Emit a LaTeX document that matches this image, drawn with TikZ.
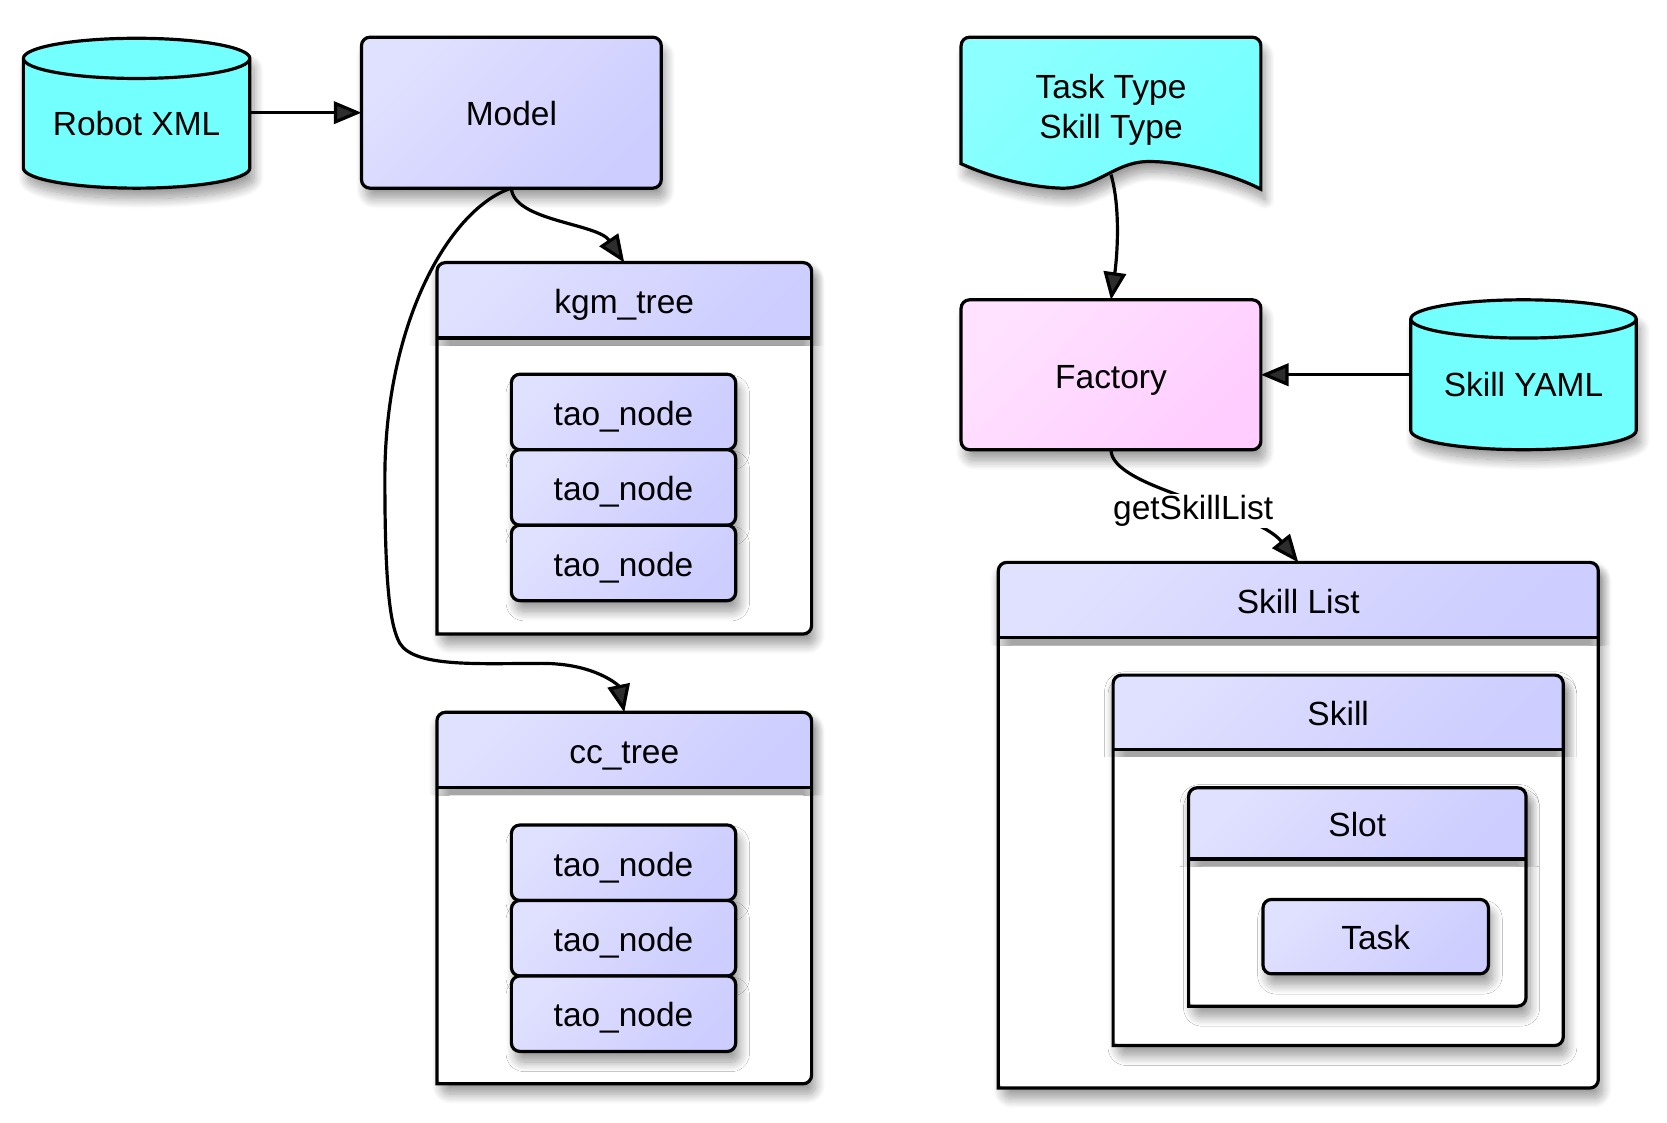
\documentclass[tikz,border=0pt]{standalone}
\usepackage{fontspec}
\setmainfont{Liberation Sans}
\usetikzlibrary{arrows.meta,positioning,shapes.geometric,shadows.blur}

\definecolor{lavlight}{HTML}{E0E0FF}
\definecolor{lavdark}{HTML}{CDCDFF}
\definecolor{aqualight}{HTML}{8CFFFF}
\definecolor{aqua}{HTML}{74FFFF}
\definecolor{pinklight}{HTML}{FFE2FF}
\definecolor{pinkdark}{HTML}{FFCDFF}

\tikzset{
  softshadow/.style={blur shadow={shadow xshift=4pt, shadow yshift=-10pt, shadow blur radius=9pt,
    shadow blur steps=16, shadow opacity=40}},
  headshadow/.style={blur shadow={shadow xshift=2pt, shadow yshift=-7pt, shadow blur radius=10pt,
    shadow blur steps=16, shadow opacity=35}},
  lav/.style={top color=lavlight, bottom color=lavdark, shading angle=45},
  txt/.style={text height=25pt, text depth=0pt},
  box/.style={draw, line width=3pt, rounded corners=8pt, lav, softshadow, inner sep=0pt, outer sep=0pt, txt},
  factorybox/.style={box, top color=pinklight, bottom color=pinkdark, shading angle=45},
  store/.style={cylinder, shape border rotate=90, aspect=0.24, draw, line width=3pt, fill=aqua, softshadow,
    inner sep=0pt, minimum width=213pt, minimum height=141pt, anchor=shape center, text height=22pt, text depth=0pt},
  docshape/.style={draw, line width=3pt, rounded corners=8pt, top color=aqualight, bottom color=aqua, shading angle=45, softshadow},
  lane/.style={anchor=north west, fill=white, rounded corners=8pt, softshadow, inner sep=0pt},
  lanehead/.style={lav, rounded corners=8pt, headshadow},
  laneline/.style={line width=3pt, rounded corners=8pt, line cap=rect},
  link/.style={line width=3pt, -{Triangle[length=26pt, width=21pt]}},
}

\begin{document}
\begin{tikzpicture}[x=1pt, y=-1pt, font=\fontsize{31.5}{38}\selectfont]
\useasboundingbox (0,0) rectangle (1568,1056);

% inputs on the left
\node[store] (robotxml) at (128.5,106.5) {Robot XML};
\node[box, minimum width=282pt, minimum height=142pt] (model) at (481,106) {Model};

% kgm_tree
\node[lane, minimum width=352pt, minimum height=349pt] (kgm) at (411,247) {};
\fill[lanehead] ([yshift=-71pt]kgm.north west) -- (kgm.north west) -- (kgm.north east) -- ([yshift=-71pt]kgm.north east);
\draw[line width=3pt] ([yshift=-71pt]kgm.north west) -- ([yshift=-71pt]kgm.north east);
\draw[laneline] (kgm.south west) -- (kgm.north west) -- (kgm.north east) -- (kgm.south east) -- (kgm.south west);
\node[anchor=north, minimum height=71pt, txt] (kgmtitle) at (kgm.north) {kgm\_tree};
\node[box, minimum width=211pt, minimum height=71pt] (kgmtao1) at (586.5,387.5) {tao\_node};
\node[box, minimum width=211pt, minimum height=71pt, below=0pt of kgmtao1] (kgmtao2) {tao\_node};
\node[box, minimum width=211pt, minimum height=71pt, below=0pt of kgmtao2] (kgmtao3) {tao\_node};

% cc_tree
\node[lane, minimum width=352pt, minimum height=349pt] (cc) at (411,670) {};
\fill[lanehead] ([yshift=-71pt]cc.north west) -- (cc.north west) -- (cc.north east) -- ([yshift=-71pt]cc.north east);
\draw[line width=3pt] ([yshift=-71pt]cc.north west) -- ([yshift=-71pt]cc.north east);
\draw[laneline] (cc.south west) -- (cc.north west) -- (cc.north east) -- (cc.south east) -- (cc.south west);
\node[anchor=north, minimum height=71pt, txt] (cctitle) at (cc.north) {cc\_tree};
\node[box, minimum width=211pt, minimum height=71pt] (cctao1) at (586.5,811.5) {tao\_node};
\node[box, minimum width=211pt, minimum height=71pt, below=0pt of cctao1] (cctao2) {tao\_node};
\node[box, minimum width=211pt, minimum height=71pt, below=0pt of cctao2] (cctao3) {tao\_node};

% inputs on the right
\draw[docshape] (1045,35) -- (1186,35) -- (1186,100) [sharp corners] -- (1186,178)
  .. controls (1160,164) and (1110,151) .. (1078,152)
  .. controls (1048,153) and (1030,178) .. (998,177)
  .. controls (970,176) and (935,168) .. (904,154) -- (904,100) [rounded corners=8pt] -- (904,35) -- (1045,35);
\node[minimum width=282pt, minimum height=121pt, align=center] (tasktype) at (1045,103.5) {Task Type\\Skill Type};
\node[factorybox, minimum width=282pt, minimum height=141pt] (factory) at (1045,352.5) {Factory};
\node[store, minimum width=212pt] (skillyaml) at (1433,352.5) {Skill YAML};

% Skill List
\node[lane, minimum width=564pt, minimum height=494pt] (skilllist) at (939,529) {};
\fill[lanehead] ([yshift=-71pt]skilllist.north west) -- (skilllist.north west) -- (skilllist.north east) -- ([yshift=-71pt]skilllist.north east);
\draw[line width=3pt] ([yshift=-71pt]skilllist.north west) -- ([yshift=-71pt]skilllist.north east);
\draw[laneline] (skilllist.south west) -- (skilllist.north west) -- (skilllist.north east) -- (skilllist.south east) -- (skilllist.south west);
\node[anchor=north, minimum height=71pt, txt] (skilllisttitle) at (skilllist.north) {Skill List};

% Skill
\node[lane, minimum width=423pt, minimum height=348pt] (skill) at (1047,635) {};
\fill[lanehead] ([yshift=-70pt]skill.north west) -- (skill.north west) -- (skill.north east) -- ([yshift=-70pt]skill.north east);
\draw[line width=3pt] ([yshift=-70pt]skill.north west) -- ([yshift=-70pt]skill.north east);
\draw[laneline] (skill.south west) -- (skill.north west) -- (skill.north east) -- (skill.south east) -- (skill.south west);
\node[anchor=north, minimum height=70pt, txt] (skilltitle) at (skill.north) {Skill};

% Slot
\node[lane, minimum width=317pt, minimum height=205pt] (slot) at (1118,741) {};
\fill[lanehead] ([yshift=-67pt]slot.north west) -- (slot.north west) -- (slot.north east) -- ([yshift=-67pt]slot.north east);
\draw[line width=3pt] ([yshift=-67pt]slot.north west) -- ([yshift=-67pt]slot.north east);
\draw[laneline] (slot.south west) -- (slot.north west) -- (slot.north east) -- (slot.south east) -- (slot.south west);
\node[anchor=north, minimum height=67pt, txt] (slottitle) at (slot.north) {Slot};
\node[box, minimum width=212pt, minimum height=70pt] (task) at (1294,881) {Task};

% connectors
\draw[link] (model.west -| robotxml.east) -- (model.west);
\draw[link] (model.south) .. controls (483,208) and (562,210) .. (kgm.north);
\draw[link] (model.south) .. controls (425,195) and (362,300) .. (362,450)
  .. controls (362,560) and (368,590) .. (376,605)
  .. controls (390,628) and (450,624) .. (510,624)
  .. controls (560,624) and (582,645) .. (cc.north);
\draw[link] (tasktype.south) .. controls (1054,195) and (1051,240) .. (factory.north);
\draw[link] (factory.east -| skillyaml.west) -- (factory.east);
\draw[link] (factory.south) .. controls (1045,460) and (1180,478) .. (skilllist.north)
  node[pos=0.52, yshift=-8pt, fill=white, inner sep=1pt] (getlabel) {getSkillList};
\end{tikzpicture}
\end{document}
